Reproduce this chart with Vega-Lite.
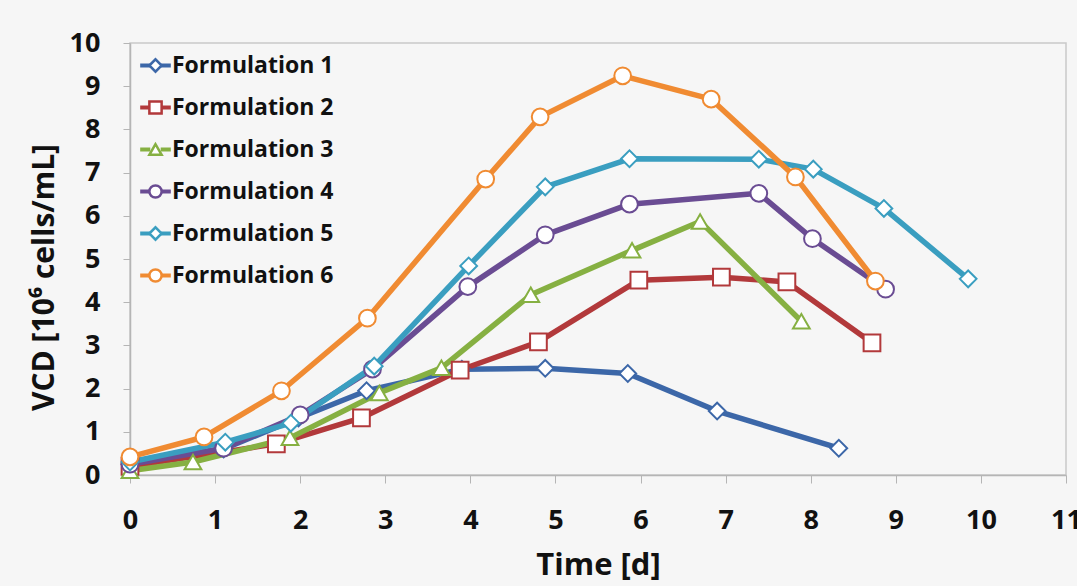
{
  "$schema": "https://vega.github.io/schema/vega-lite/v6.json",
  "width": 936,
  "height": 432,
  "autosize": "none",
  "padding": {"left": 130, "top": 43, "right": 11, "bottom": 111},
  "background": "#f6f6f6",
  "config": {
    "view": {"stroke": "#c9c9c9", "strokeWidth": 1.5},
    "font": "Open Sans",
    "legend": {
      "title": null,
      "orient": "none",
      "legendX": 14,
      "legendY": 11,
      "labelFont": "Open Sans",
      "labelFontSize": 23,
      "labelFontWeight": "bold",
      "labelColor": "#111111",
      "labelLimit": 0,
      "symbolSize": 150,
      "symbolStrokeWidth": 2.5,
      "symbolFillColor": "#ffffff",
      "rowPadding": 18,
      "labelOffset": 5
    }
  },
  "data": {
    "values": [
      {"series": "Formulation 1", "t": 0, "vcd": 0.25},
      {"series": "Formulation 1", "t": 1.1, "vcd": 0.6},
      {"series": "Formulation 1", "t": 1.98, "vcd": 1.32},
      {"series": "Formulation 1", "t": 2.78, "vcd": 1.95},
      {"series": "Formulation 1", "t": 3.9, "vcd": 2.45},
      {"series": "Formulation 1", "t": 4.88, "vcd": 2.47},
      {"series": "Formulation 1", "t": 5.85, "vcd": 2.35},
      {"series": "Formulation 1", "t": 6.9, "vcd": 1.48},
      {"series": "Formulation 1", "t": 8.33, "vcd": 0.62},
      {"series": "Formulation 2", "t": 0, "vcd": 0.2},
      {"series": "Formulation 2", "t": 1.72, "vcd": 0.72},
      {"series": "Formulation 2", "t": 2.72, "vcd": 1.32},
      {"series": "Formulation 2", "t": 3.88, "vcd": 2.43},
      {"series": "Formulation 2", "t": 4.8, "vcd": 3.08},
      {"series": "Formulation 2", "t": 5.98, "vcd": 4.51},
      {"series": "Formulation 2", "t": 6.95, "vcd": 4.58},
      {"series": "Formulation 2", "t": 7.72, "vcd": 4.47},
      {"series": "Formulation 2", "t": 8.72, "vcd": 3.06},
      {"series": "Formulation 3", "t": 0, "vcd": 0.1},
      {"series": "Formulation 3", "t": 0.74, "vcd": 0.3},
      {"series": "Formulation 3", "t": 1.88, "vcd": 0.86},
      {"series": "Formulation 3", "t": 2.93, "vcd": 1.9},
      {"series": "Formulation 3", "t": 3.66, "vcd": 2.48},
      {"series": "Formulation 3", "t": 4.71, "vcd": 4.17},
      {"series": "Formulation 3", "t": 5.9, "vcd": 5.2},
      {"series": "Formulation 3", "t": 6.7, "vcd": 5.87},
      {"series": "Formulation 3", "t": 7.89, "vcd": 3.56},
      {"series": "Formulation 4", "t": 0, "vcd": 0.25},
      {"series": "Formulation 4", "t": 1.1, "vcd": 0.62},
      {"series": "Formulation 4", "t": 2.0, "vcd": 1.39},
      {"series": "Formulation 4", "t": 2.85, "vcd": 2.45},
      {"series": "Formulation 4", "t": 3.97, "vcd": 4.36},
      {"series": "Formulation 4", "t": 4.88, "vcd": 5.56},
      {"series": "Formulation 4", "t": 5.87, "vcd": 6.27},
      {"series": "Formulation 4", "t": 7.39, "vcd": 6.52},
      {"series": "Formulation 4", "t": 8.02, "vcd": 5.47},
      {"series": "Formulation 4", "t": 8.88, "vcd": 4.3},
      {"series": "Formulation 5", "t": 0, "vcd": 0.3},
      {"series": "Formulation 5", "t": 1.12, "vcd": 0.76},
      {"series": "Formulation 5", "t": 1.89, "vcd": 1.2},
      {"series": "Formulation 5", "t": 2.87, "vcd": 2.52},
      {"series": "Formulation 5", "t": 3.98, "vcd": 4.84},
      {"series": "Formulation 5", "t": 4.88, "vcd": 6.67},
      {"series": "Formulation 5", "t": 5.87, "vcd": 7.32},
      {"series": "Formulation 5", "t": 7.39, "vcd": 7.31},
      {"series": "Formulation 5", "t": 8.03, "vcd": 7.08},
      {"series": "Formulation 5", "t": 8.86, "vcd": 6.17},
      {"series": "Formulation 5", "t": 9.85, "vcd": 4.54},
      {"series": "Formulation 6", "t": 0, "vcd": 0.42},
      {"series": "Formulation 6", "t": 0.87, "vcd": 0.88},
      {"series": "Formulation 6", "t": 1.78, "vcd": 1.95},
      {"series": "Formulation 6", "t": 2.79, "vcd": 3.63},
      {"series": "Formulation 6", "t": 4.18, "vcd": 6.85},
      {"series": "Formulation 6", "t": 4.82, "vcd": 8.29},
      {"series": "Formulation 6", "t": 5.79, "vcd": 9.24},
      {"series": "Formulation 6", "t": 6.83, "vcd": 8.7},
      {"series": "Formulation 6", "t": 7.82, "vcd": 6.9},
      {"series": "Formulation 6", "t": 8.76, "vcd": 4.49}
    ]
  },
  "encoding": {
    "x": {
      "field": "t",
      "type": "quantitative",
      "scale": {"domain": [0, 11], "nice": false, "zero": false},
      "axis": {
        "title": "Time [d]",
        "values": [0, 1, 2, 3, 4, 5, 6, 7, 8, 9, 10, 11],
        "grid": false,
        "domainColor": "#b5b5b5",
        "domainWidth": 1.5,
        "tickColor": "#b5b5b5",
        "tickSize": 8,
        "labelPadding": 24,
        "labelFont": "Open Sans",
        "labelFontSize": 27,
        "labelFontWeight": "bold",
        "labelColor": "#111111",
        "labelOverlap": false,
        "labelFlush": false,
        "titleFont": "Open Sans",
        "titleFontSize": 31,
        "titleFontWeight": "bold",
        "titleColor": "#111111",
        "titlePadding": 17
      }
    },
    "y": {
      "field": "vcd",
      "type": "quantitative",
      "scale": {"domain": [0, 10], "nice": false},
      "axis": {
        "title": "VCD [10⁶ cells/mL]",
        "values": [0, 1, 2, 3, 4, 5, 6, 7, 8, 9, 10],
        "grid": false,
        "domainColor": "#b5b5b5",
        "domainWidth": 1.5,
        "tickColor": "#b5b5b5",
        "tickSize": 7,
        "labelPadding": 23,
        "labelFont": "Open Sans",
        "labelFontSize": 27,
        "labelFontWeight": "bold",
        "labelColor": "#111111",
        "titleFont": "Open Sans",
        "titleFontSize": 30,
        "titleFontWeight": "bold",
        "titleColor": "#111111",
        "titlePadding": 10,
        "titleY": 234
      }
    }
  },
  "resolve": {"legend": {"color": "independent", "shape": "independent"}},
  "layer": [
    {
      "mark": {"type": "line", "strokeWidth": 5.5, "strokeJoin": "round"},
      "encoding": {
        "color": {
          "field": "series",
          "type": "nominal",
          "scale": {
            "domain": ["Formulation 1", "Formulation 2", "Formulation 3", "Formulation 4", "Formulation 5", "Formulation 6"],
            "range": ["#3c67a8", "#b2393b", "#86b042", "#6a4c93", "#3a9ec0", "#f08b32"]
          },
          "legend": {
            "symbolType": "M-2.5,0H-0.85M0.85,0H2.5",
            "symbolStrokeWidth": 4,
            "labelOpacity": 0
          }
        }
      }
    },
    {
      "mark": {"type": "point", "filled": false, "fill": "#ffffff", "fillOpacity": 1, "opacity": 1, "strokeWidth": 2, "size": 280},
      "encoding": {
        "color": {
          "field": "series",
          "type": "nominal",
          "scale": {
            "domain": ["Formulation 1", "Formulation 2", "Formulation 3", "Formulation 4", "Formulation 5", "Formulation 6"],
            "range": ["#3c67a8", "#b2393b", "#86b042", "#6a4c93", "#3a9ec0", "#f08b32"]
          }
        },
        "shape": {
          "field": "series",
          "type": "nominal",
          "scale": {
            "domain": ["Formulation 1", "Formulation 2", "Formulation 3", "Formulation 4", "Formulation 5", "Formulation 6"],
            "range": ["diamond", "square", "triangle-up", "circle", "diamond", "circle"]
          }
        }
      }
    }
  ]
}
